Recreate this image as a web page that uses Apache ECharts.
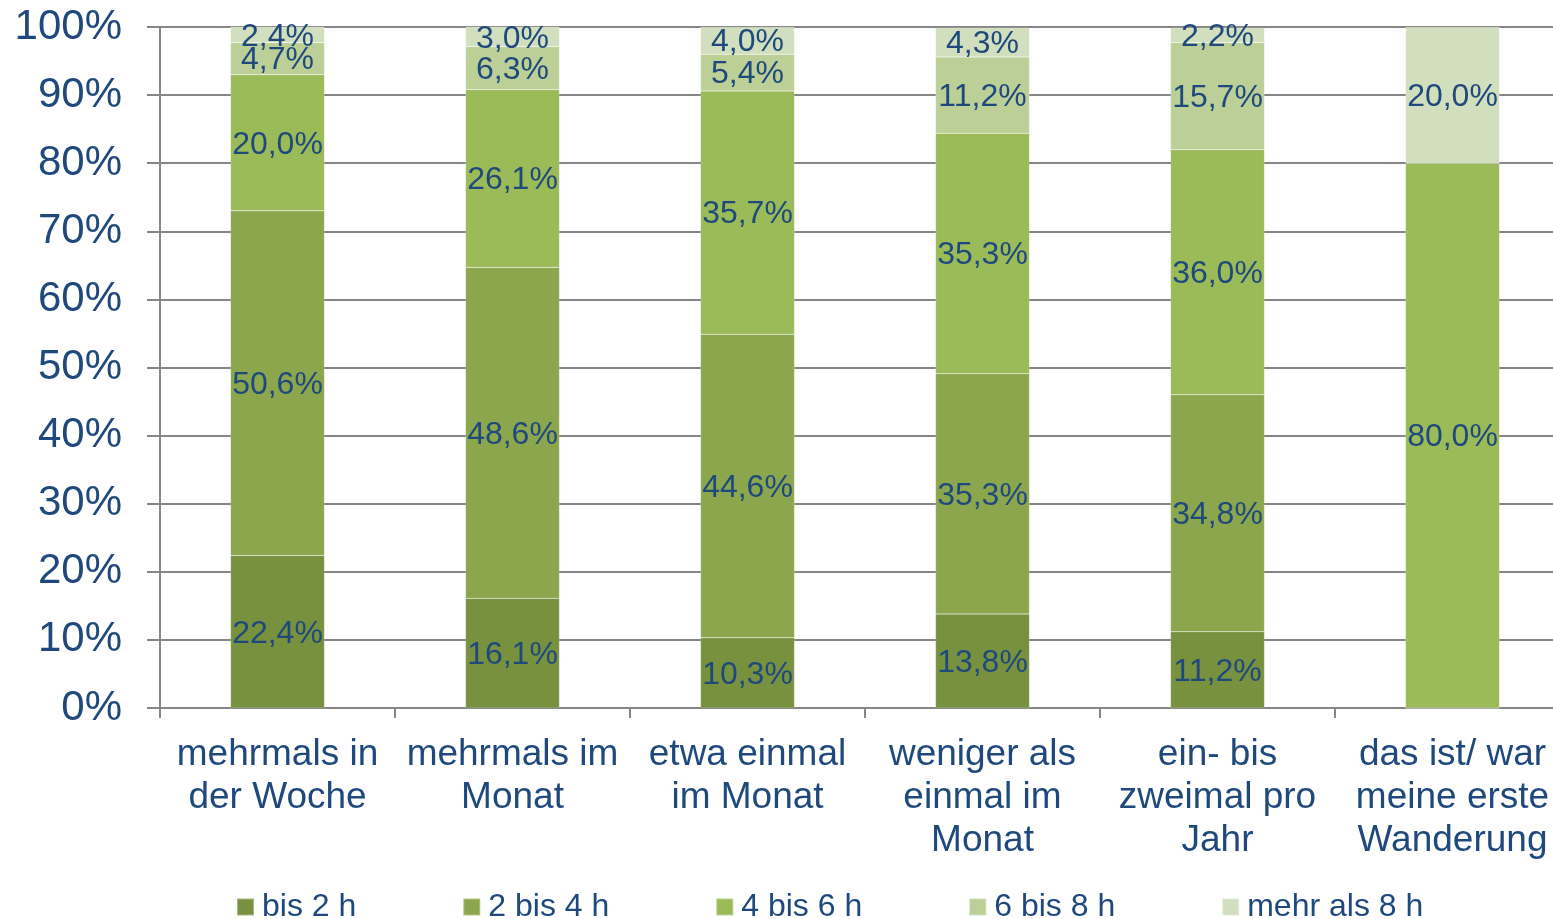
<!DOCTYPE html>
<html lang="de">
<head>
	<meta charset="UTF-8">
	<title>Wanderdauer nach Häufigkeit</title>
	<script type="text/javascript" src="https://cdn.jsdelivr.net/npm/echarts@6/dist/echarts.min.js"></script>
	<style>
		html, body { margin: 0; padding: 0; background: #fff; }
		#chart_show { width: 1553px; height: 919px; }
	</style>
</head>
<body>
	<div id="chart_show"></div>
	<script>
		// Kategorien (Häufigkeit) und Anteile je Dauer in %
		var categories = ['mehrmals in\nder Woche', 'mehrmals im\nMonat', 'etwa einmal\nim Monat',
			'weniger als\neinmal im\nMonat', 'ein- bis\nzweimal pro\nJahr', 'das ist/ war\nmeine erste\nWanderung'];
		var seriesNames = ['bis 2 h', '2 bis 4 h', '4 bis 6 h', '6 bis 8 h', 'mehr als 8 h'];
		var bis2 = [22.4, 16.1, 10.3, 13.8, 11.2, 0];
		var bis4 = [50.6, 48.6, 44.6, 35.3, 34.8, 0];
		var bis6 = [20.0, 26.1, 35.7, 35.3, 36.0, 80.0];
		var bis8 = [4.7, 6.3, 5.4, 11.2, 15.7, 0];
		var mehr8 = [2.4, 3.0, 4.0, 4.3, 2.2, 20.0];
		var yTicks = [0, 10, 20, 30, 40, 50, 60, 70, 80, 90, 100];

		var colors = ['#77913f', '#8ba64d', '#9bbb59', '#bbcf96', '#d2dfbe'];
		var textBlue = '#1f497d';
		var font = '"Liberation Sans", Arial, sans-serif';

		var allData = [bis2, bis4, bis6, bis8, mehr8];

		var oChart = echarts.init(document.getElementById('chart_show'), null, {renderer: 'canvas'});

		var series = seriesNames.map(function (name, i) {
			return {
				name: name,
				type: 'bar',
				stack: 'total',
				barWidth: 94,
				itemStyle: {color: colors[i], borderColor: 'rgba(255,255,255,0.35)', borderWidth: 0.5},
				label: {
					show: true,
					position: 'inside',
					color: textBlue,
					fontFamily: font,
					fontSize: 32,
					offset: [0, 2],
					formatter: function (p) {
						if (!p.value) return '';
						return p.value.toFixed(1).replace('.', ',') + '%';
					}
				},
				data: allData[i]
			};
		});

		var chartopt = {
			animation: false,
			textStyle: {fontFamily: font},
			// Zeichenfläche läuft rechts etwas über den Rand hinaus (wie im Original)
			grid: {left: 160, width: 1410, top: 27, bottom: 211, containLabel: false, outerBoundsMode: 'none'},
			legend: {
				data: seriesNames,
				left: 231,
				top: 886,
				icon: 'rect',
				itemWidth: 17,
				itemHeight: 17,
				itemGap: 106,
				textStyle: {color: textBlue, fontSize: 32, fontFamily: font, padding: [0, 0, 0, 3]}
			},
			xAxis: {
				type: 'category',
				data: categories,
				axisLine: {lineStyle: {color: '#868686', width: 2}},
				axisTick: {show: true, length: 10, lineStyle: {color: '#868686', width: 2}},
				axisLabel: {
					color: textBlue,
					fontSize: 37,
					fontFamily: font,
					lineHeight: 43,
					margin: 25,
					interval: 0
				}
			},
			yAxis: {
				type: 'value',
				min: yTicks[0],
				max: yTicks[yTicks.length - 1],
				interval: 10,
				axisLine: {show: true, lineStyle: {color: '#868686', width: 2}},
				axisTick: {show: true, length: 13, lineStyle: {color: '#868686', width: 2}},
				splitLine: {lineStyle: {color: '#868686', width: 2}},
				axisLabel: {
					color: textBlue,
					fontSize: 42,
					fontFamily: font,
					margin: 38,
					formatter: '{value}%'
				}
			},
			series: series
		};
		oChart.setOption(chartopt);
	</script>
</body>
</html>
